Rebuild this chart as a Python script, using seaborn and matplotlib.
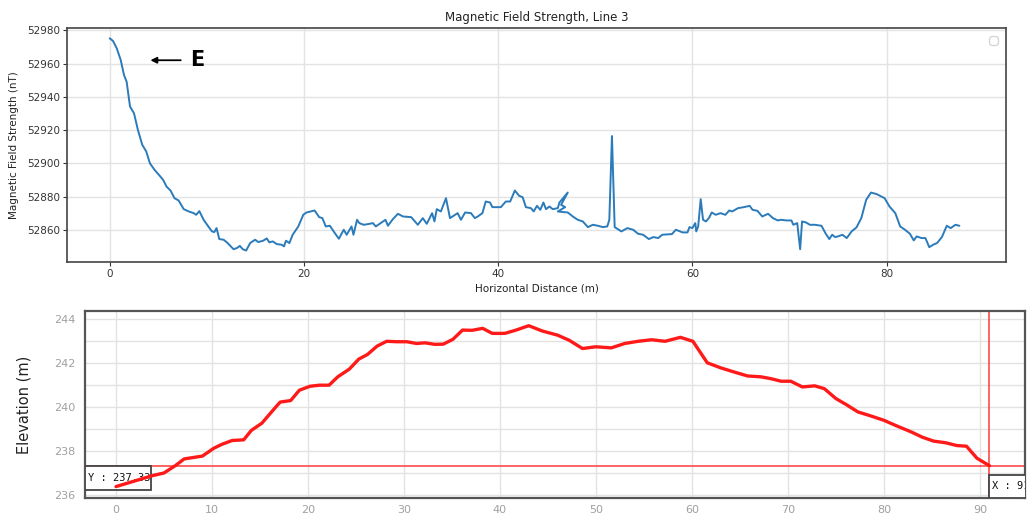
import numpy as np
import pandas as pd
import matplotlib
matplotlib.use("Agg")
import matplotlib.pyplot as plt
import seaborn as sns
from matplotlib.patches import Rectangle
from matplotlib.ticker import MultipleLocator

# ---------------- data: magnetic profile (top) ----------------
mag_dist = [0, 0.34, 0.72, 1.13, 1.47, 1.74, 2.09, 2.5, 2.9, 3.35, 3.76, 4.14, 4.62, 5.16,
            5.5, 5.85, 6.26, 6.67, 7.1, 7.62, 8.14, 8.65, 8.9, 9.23, 9.67, 10.2, 10.53,
            10.77, 11.0, 11.28, 11.73, 12.07, 12.75, 13.1, 13.4, 13.7, 14.05, 14.46, 14.97,
            15.3, 15.8, 16.17, 16.44, 16.79, 17.2, 17.7, 17.95, 18.15, 18.5, 18.84, 19.42,
            19.93, 20.27, 21.1, 21.57, 21.9, 22.25, 22.67, 23.18, 23.6, 24.1, 24.4, 24.9,
            25.1, 25.47, 25.7, 26.15, 26.6, 27.1, 27.4, 27.9, 28.4, 28.65, 29.16, 29.68,
            30.2, 31.04, 31.73, 32.24, 32.65, 33.2, 33.44, 33.68, 34.1, 34.63, 35.04, 35.83,
            36.17, 36.6, 37.2, 37.6, 37.9, 38.38, 38.72, 39.17, 39.41, 40.28, 40.79, 41.24,
            41.72, 42.17, 42.52, 42.86, 43.38, 43.66, 44.0, 44.34, 44.66, 44.93, 45.28,
            45.62, 46.14, 46.31, 47.17, 46.48, 46.9, 46.14, 47.17, 47.69, 48.2, 48.72,
            49.24, 49.76, 50.28, 50.79, 51.24, 51.45, 51.72, 52.0, 52.69, 53.31, 53.9,
            54.41, 54.93, 55.52, 55.97, 56.48, 56.9, 57.9, 58.3, 59.0, 59.5, 59.7, 60.0,
            60.3, 60.4, 60.6, 60.86, 61.1, 61.4, 61.7, 62.0, 62.4, 62.9, 63.4, 63.8, 64.1,
            64.7, 65.3, 65.9, 66.2, 66.7, 67.2, 67.8, 68.3, 68.8, 69.1, 69.7, 70.2, 70.4,
            70.8, 71.1, 71.3, 71.7, 72.1, 72.6, 73.3, 73.7, 74.1, 74.4, 74.7, 75.0, 75.45,
            75.9, 76.4, 76.9, 77.4, 77.9, 78.4, 79.0, 79.8, 80.3, 80.9, 81.4, 81.9, 82.4,
            82.8, 83.1, 83.6, 84.0, 84.4, 84.8, 85.2, 85.7, 86.2, 86.6, 87.1, 87.5]
mag_nT = [52975.2, 52973.6, 52969.2, 52962.2, 52953.1, 52949.1, 52934.1, 52930.1, 52920.1,
          52911.1, 52907.1, 52900.0, 52896.0, 52892.4, 52890.0, 52886.0, 52883.6, 52879.0,
          52877.6, 52872.4, 52871.0, 52870.0, 52869.0, 52871.2, 52866.0, 52861.6, 52859.0,
          52858.6, 52861.0, 52854.4, 52854.0, 52852.4, 52848.3, 52849.0, 52850.3, 52848.3,
          52847.5, 52852.0, 52854.0, 52852.6, 52853.4, 52854.8, 52852.4, 52853.0, 52851.4,
          52851.0, 52850.0, 52853.4, 52852.0, 52857.0, 52862.0, 52869.0, 52870.4, 52871.6,
          52867.6, 52867.0, 52862.0, 52862.4, 52858.0, 52854.6, 52860.0, 52857.0, 52862.0,
          52857.0, 52866.0, 52864.0, 52863.0, 52863.4, 52864.0, 52862.0, 52864.0, 52866.0,
          52862.4, 52866.4, 52869.6, 52868.0, 52867.6, 52863.0, 52867.0, 52863.6, 52870.0,
          52865.0, 52872.4, 52871.0, 52879.0, 52867.0, 52870.0, 52866.0, 52870.4, 52870.0,
          52867.0, 52868.0, 52870.0, 52877.0, 52876.4, 52873.6, 52873.6, 52877.0, 52877.0,
          52883.6, 52880.4, 52879.6, 52873.6, 52873.0, 52871.0, 52874.4, 52872.0, 52876.4,
          52872.4, 52874.0, 52872.4, 52873.0, 52876.4, 52882.4, 52875.0, 52873.6, 52871.0,
          52870.4, 52868.0, 52866.0, 52865.0, 52861.6, 52863.0, 52862.4, 52861.6, 52862.0,
          52866.0, 52916.4, 52861.6, 52859.0, 52861.0, 52860.0, 52857.6, 52857.0, 52854.4,
          52855.6, 52855.0, 52857.0, 52857.4, 52860.0, 52858.4, 52858.4, 52861.6, 52861.0,
          52864.0, 52859.0, 52862.0, 52878.4, 52866.0, 52865.0, 52867.0, 52870.4, 52869.0,
          52870.0, 52869.0, 52871.6, 52871.0, 52873.0, 52873.6, 52874.4, 52872.0, 52871.4,
          52868.0, 52869.6, 52867.0, 52865.6, 52866.0, 52865.6, 52865.6, 52863.0, 52864.0,
          52848.3, 52865.0, 52864.4, 52863.0, 52863.0, 52862.4, 52858.0, 52854.4, 52857.0,
          52855.6, 52856.0, 52857.0, 52855.0, 52859.0, 52861.4, 52867.0, 52878.0, 52882.4,
          52881.4, 52879.0, 52874.0, 52870.0, 52862.0, 52860.0, 52857.6, 52853.6, 52856.0,
          52855.0, 52855.0, 52849.5, 52851.0, 52852.0, 52855.6, 52862.4, 52861.0, 52863.0,
          52862.4]

# ---------------- data: elevation profile (bottom) ----------------
elev_dist = [0, 3.8, 5.0, 6.2, 7.1, 9.0, 10.2, 11.0, 12.1, 13.3, 14.1, 15.2, 16.2, 17.1,
             18.2, 19.1, 20.2, 21.2, 22.2, 23.1, 24.3, 25.3, 26.2, 27.2, 28.2, 29.2, 30.3,
             31.3, 32.2, 33.2, 34.1, 35.1, 36.1, 37.1, 38.2, 39.2, 40.5, 41.6, 43.0, 44.4,
             46.0, 47.2, 48.6, 50.0, 51.6, 53.0, 54.4, 55.8, 57.2, 58.8, 60.1, 61.6, 63.0,
             64.4, 65.8, 67.2, 68.2, 69.3, 70.3, 71.5, 72.8, 73.8, 75.0, 76.1, 77.3, 78.7,
             80.0, 81.2, 82.9, 84.0, 85.2, 86.4, 87.6, 88.6, 89.7, 91.0]
elev_m = [236.38, 236.88, 237.0, 237.34, 237.64, 237.77, 238.13, 238.3, 238.48, 238.51,
          238.94, 239.27, 239.78, 240.23, 240.3, 240.77, 240.95, 241.0, 241.0, 241.38,
          241.73, 242.19, 242.4, 242.78, 243.0, 242.98, 242.98, 242.9, 242.93, 242.86,
          242.87, 243.09, 243.51, 243.5, 243.59, 243.36, 243.36, 243.5, 243.71, 243.47,
          243.28, 243.05, 242.67, 242.75, 242.7, 242.9, 243.0, 243.07, 243.0, 243.18,
          243.0, 242.02, 241.79, 241.6, 241.42, 241.38, 241.3, 241.18, 241.18, 240.92,
          240.97, 240.84, 240.39, 240.11, 239.78, 239.59, 239.4, 239.17, 238.86, 238.63,
          238.45, 238.38, 238.25, 238.22, 237.67, 237.33]
cursor_x = 91
cursor_y = 237.33

mag_xticks = [0, 20, 40, 60, 80]
mag_yticks = [52860, 52880, 52900, 52920, 52940, 52960, 52980]
elev_xticks = [0, 10, 20, 30, 40, 50, 60, 70, 80, 90]
elev_yticks = [236, 238, 240, 242, 244]

sns.set_theme(style="whitegrid")
plt.rcParams['font.family'] = ['DejaVu Sans']

fig = plt.figure(figsize=(10.29, 5.19), dpi=100)

# ================= top axes =================
ax1 = fig.add_axes([67 / 1029, 1 - 262 / 519, 939 / 1029, 234 / 519])
mag_df = pd.DataFrame({"dist": mag_dist, "nT": mag_nT})
sns.lineplot(data=mag_df, x="dist", y="nT", sort=False, estimator=None,
             ax=ax1, color="#2b7bba", linewidth=1.4)
ax1.set_xlim(-4.4, 92.3)
ax1.set_ylim(52840.6, 52981.4)
ax1.set_xticks(mag_xticks)
ax1.set_yticks(mag_yticks)
ax1.grid(True, color="#e3e3e3", linewidth=1)
for s in ax1.spines.values():
    s.set_color("#444444")
    s.set_linewidth(1.2)
ax1.tick_params(axis="both", labelsize=7.5, colors="#333333", length=3, width=0.8,
                bottom=True, left=True, pad=2)
ax1.set_title("Magnetic Field Strength, Line 3", fontsize=8.5, color="#222222", pad=5)
ax1.set_xlabel("Horizontal Distance (m)", fontsize=7.5, color="#222222", labelpad=3)
ax1.set_ylabel("Magnetic Field Strength (nT)", fontsize=7.5, color="#222222")
ax1.yaxis.set_label_coords(-0.051, 0.5)
leg = ax1.legend(handles=[], loc="upper right", frameon=True, borderpad=0.3)
ax1.annotate("", xy=(3.9, 52962), xytext=(7.6, 52962),
             arrowprops=dict(arrowstyle="-|>", color="black", lw=1.3, mutation_scale=9))
ax1.text(8.3, 52962, "E", fontsize=15, fontweight="bold", va="center", ha="left", color="black")

# ================= bottom axes =================
ax2 = fig.add_axes([85 / 1029, 1 - 498 / 519, 940 / 1029, 187 / 519])
elev_df = pd.DataFrame({"dist": elev_dist, "elev": elev_m})
sns.lineplot(data=elev_df, x="dist", y="elev", ax=ax2, color="#ff1a1a",
             linewidth=2.4, zorder=4)
x0, x1 = -3.23, 94.7
y0, y1 = 235.86, 244.38
ax2.set_xlim(x0, x1)
ax2.set_ylim(y0, y1)
ax2.set_xticks(elev_xticks)
ax2.set_yticks(elev_yticks)
ax2.yaxis.set_minor_locator(MultipleLocator(1))
ax2.grid(False)
ax2.grid(True, which="both", axis="y", color="#e2e2e2", linewidth=1)
ax2.grid(True, which="major", axis="x", color="#e2e2e2", linewidth=1)
for s in ax2.spines.values():
    s.set_color("#555555")
    s.set_linewidth(1.6)
ax2.tick_params(axis="both", which="both", length=0, labelsize=8, colors="#a0a0a0")
ax2.tick_params(axis="y", pad=7)
ax2.tick_params(axis="x", pad=5)
ax2.set_xlabel("")
ax2.set_ylabel("Elevation (m)", fontsize=10.5, color="#222222")
ax2.yaxis.set_label_coords(-0.0564, 0.5)

# crosshair
ax2.axhline(cursor_y, color="#ff3b3b", linewidth=1.1, zorder=2)
ax2.axvline(cursor_x, color="#ff3b3b", linewidth=1.1, zorder=2)

# Y readout box
bh = 1.09
bw = 6.9
ax2.add_patch(Rectangle((x0, cursor_y - bh), bw, bh, facecolor="white",
                        edgecolor="#444444", linewidth=1.3, zorder=3))
ax2.text(x0 + 0.3, cursor_y - bh / 2, f"Y : {cursor_y:.2f}", fontsize=7.5,
         family="DejaVu Sans Mono", va="center", ha="left", color="#111111", zorder=3.5)
# X readout box (clipped at right edge)
xh = 1.05
ax2.add_patch(Rectangle((cursor_x, y0), 8, xh, facecolor="white",
                        edgecolor="#444444", linewidth=1.3, zorder=3, clip_on=True))
ax2.text(cursor_x + 0.3, y0 + xh / 2, f"X : {cursor_x}", fontsize=7.5,
         family="DejaVu Sans Mono", va="center", ha="left", color="#111111",
         zorder=3.5, clip_on=True)

fig.savefig("out.png", dpi=100)
